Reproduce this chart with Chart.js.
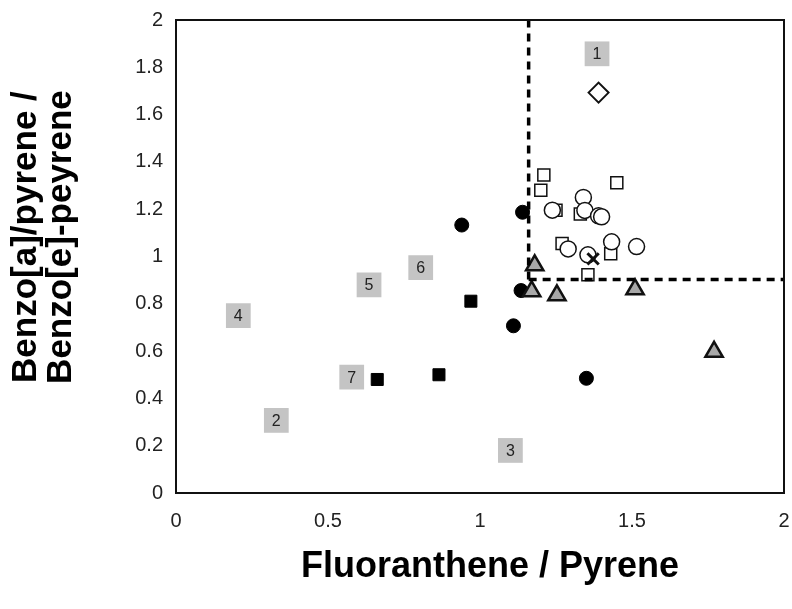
<!DOCTYPE html>
<html>
<head>
<meta charset="utf-8">
<script src="https://cdn.jsdelivr.net/npm/chart.js@4/dist/chart.umd.min.js"></script>
<style>
  html, body { margin: 0; padding: 0; background: #fff; }
</style>
</head>
<body>
<canvas id="chartCanvas" width="792" height="609"></canvas>
<script>
// numbered reference sources (grey boxes)
const sourceLabels = ["1", "2", "3", "4", "5", "6", "7"];
const sourceX = [1.385, 0.33, 1.10, 0.205, 0.635, 0.805, 0.578];
const sourceY = [1.857, 0.307, 0.18, 0.75, 0.88, 0.953, 0.49];

// sample series
const filledCircleX = [1.14, 0.94, 1.135, 1.11, 1.35];
const filledCircleY = [1.187, 1.133, 0.856, 0.707, 0.485];

const filledSquareX = [0.97, 0.865, 0.662];
const filledSquareY = [0.811, 0.5, 0.48];

const triangleX = [1.18, 1.17, 1.253, 1.51, 1.77];
const triangleY = [0.963, 0.853, 0.836, 0.861, 0.597];

const openSquareX = [1.21, 1.2, 1.45, 1.25, 1.27, 1.43, 1.355, 1.33];
const openSquareY = [1.345, 1.28, 1.312, 1.196, 1.055, 1.012, 0.923, 1.18];

const openCircleX = [1.34, 1.345, 1.39, 1.40, 1.238, 1.29, 1.433, 1.515, 1.355];
const openCircleY = [1.25, 1.195, 1.172, 1.168, 1.196, 1.032, 1.062, 1.042, 1.007];

const diamondX = [1.39];
const diamondY = [1.693];

const crossX = [1.372];
const crossY = [0.99];

// threshold lines
const thresholdX = 1.16;
const thresholdY = 0.903;

const xTicks = [0, 0.5, 1, 1.5, 2];
const yTicks = [0, 0.2, 0.4, 0.6, 0.8, 1, 1.2, 1.4, 1.6, 1.8, 2];

const pts = (xs, ys) => xs.map((x, i) => ({ x: x, y: ys[i] }));

const frame = {
  id: "frame",
  afterDatasetsDraw(chart) {
    const { ctx, chartArea: a } = chart;
    ctx.save();
    ctx.strokeStyle = "#111";
    ctx.lineWidth = 2;
    ctx.strokeRect(a.left, a.top, a.right - a.left, a.bottom - a.top);
    ctx.restore();
  }
};

const boxText = {
  id: "boxText",
  afterDatasetsDraw(chart) {
    const meta = chart.getDatasetMeta(chart.data.datasets.findIndex(d => d.label === "sources"));
    const { ctx } = chart;
    ctx.save();
    ctx.font = "16px 'Liberation Sans', Arial, sans-serif";
    ctx.fillStyle = "#222";
    ctx.textAlign = "center";
    ctx.textBaseline = "middle";
    meta.data.forEach((el, i) => ctx.fillText(sourceLabels[i], el.x, el.y + 1));
    ctx.restore();
  }
};

const tickFont = { family: "'Liberation Sans', Arial, sans-serif", size: 20 };
const fam = "'Liberation Sans', Arial, sans-serif";

new Chart(document.getElementById("chartCanvas"), {
  type: "scatter",
  data: {
    datasets: [
      { type: "line", label: "vline", data: [{ x: thresholdX, y: thresholdY }, { x: thresholdX, y: 2 }], borderColor: "#000", borderWidth: 3.5, borderDash: [8, 6], pointRadius: 0, fill: false, order: 0 },
      { type: "line", label: "hline", data: [{ x: thresholdX, y: thresholdY }, { x: 2, y: thresholdY }], borderColor: "#000", borderWidth: 3.5, borderDash: [8, 6], pointRadius: 0, fill: false, order: 0 },
      { label: "cross", data: pts(crossX, crossY), pointStyle: "crossRot", pointRadius: 8, borderColor: "#111", pointBorderWidth: 3, order: 1 },
      { label: "diamond", data: pts(diamondX, diamondY), pointStyle: "rectRot", pointRadius: 10, backgroundColor: "#fff", borderColor: "#111", pointBorderWidth: 2, order: 2 },
      { label: "triangles", data: pts(triangleX, triangleY), pointStyle: "triangle", pointRadius: 10, backgroundColor: "#a8a8a8", borderColor: "#111", pointBorderWidth: 2.5, order: 3 },
      { label: "open circles", data: pts(openCircleX, openCircleY), pointStyle: "circle", pointRadius: 8, backgroundColor: "#fff", borderColor: "#111", pointBorderWidth: 1.5, order: 4 },
      { label: "open squares", data: pts(openSquareX, openSquareY), pointStyle: "rect", pointRadius: 8.5, backgroundColor: "#fff", borderColor: "#111", pointBorderWidth: 1.5, order: 5 },
      { label: "filled squares", data: pts(filledSquareX, filledSquareY), pointStyle: "rect", pointRadius: 8.5, backgroundColor: "#000", borderColor: "#000", pointBorderWidth: 1, order: 6 },
      { label: "filled circles", data: pts(filledCircleX, filledCircleY), pointStyle: "circle", pointRadius: 7, backgroundColor: "#000", borderColor: "#000", pointBorderWidth: 1, order: 7 },
      { label: "sources", data: pts(sourceX, sourceY), pointStyle: "rect", pointRadius: 17.5, backgroundColor: "#c4c4c4", borderColor: "#c4c4c4", pointBorderWidth: 0, order: 8 }
    ]
  },
  options: {
    responsive: false,
    animation: false,
    layout: { autoPadding: false, padding: { top: 20, right: 8, left: 0, bottom: 0 } },
    plugins: { legend: { display: false }, tooltip: { enabled: false } },
    scales: {
      x: {
        type: "linear", min: 0, max: 2,
        afterBuildTicks: s => { s.ticks = xTicks.map(v => ({ value: v })); },
        afterFit: s => { s.height = 116; s.paddingLeft = 0; s.paddingRight = 0; },
        grid: { display: false, drawTicks: false },
        border: { display: false },
        ticks: { font: tickFont, color: "#222", padding: 16, maxRotation: 0, callback: v => String(v) },
        title: { display: true, text: "  Fluoranthene / Pyrene", font: { family: fam, size: 36, weight: "bold", lineHeight: 1.0 }, color: "#000", padding: { top: 0, bottom: 24 } }
      },
      y: {
        type: "linear", min: 0, max: 2,
        afterBuildTicks: s => { s.ticks = yTicks.map(v => ({ value: v })); },
        afterFit: s => { s.width = 176; s.paddingTop = 0; s.paddingBottom = 0; },
        grid: { display: false, drawTicks: false },
        border: { display: false },
        ticks: { font: tickFont, color: "#222", padding: 13, callback: v => String(v) },
        title: { display: true, text: ["    Benzo[a]/pyrene /", "    Benzo[e]-peyrene"], font: { family: fam, size: 35, weight: "bold", lineHeight: 1.0 }, color: "#000", padding: { top: 9, bottom: 0 } }
      }
    }
  },
  plugins: [frame, boxText]
});
</script>
</body>
</html>
